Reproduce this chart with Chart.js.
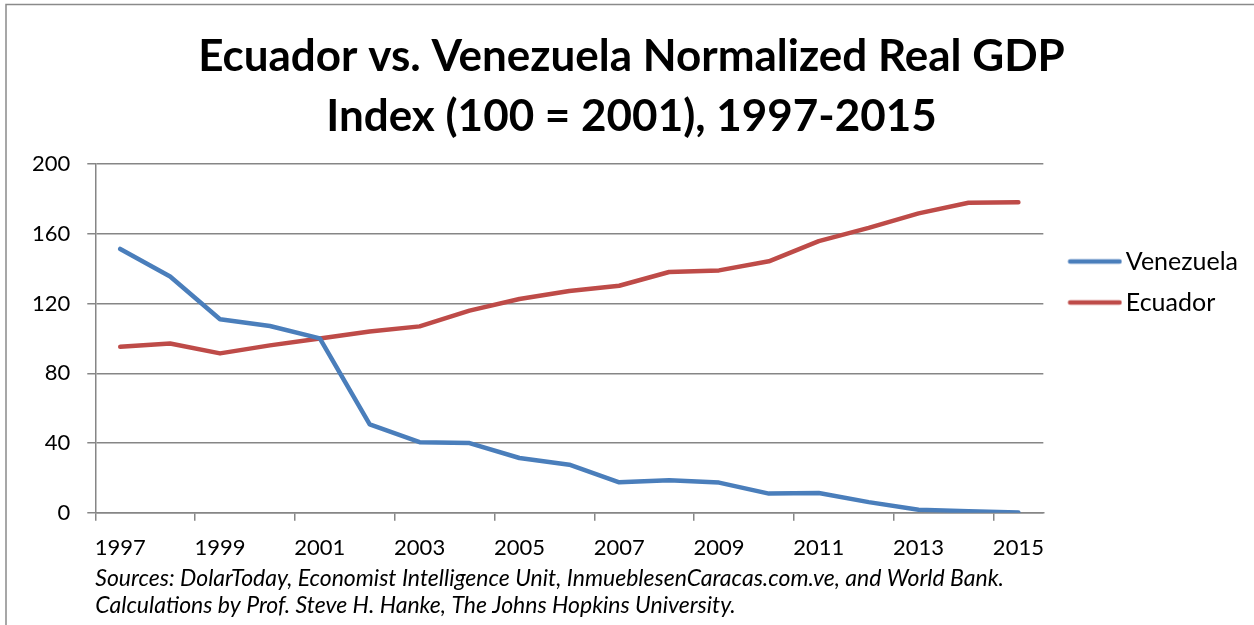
<!DOCTYPE html>
<html>
<head>
<meta charset="utf-8">
<script src="https://cdn.jsdelivr.net/npm/chart.js@4"></script>
<style>
  body { margin: 0; background: #fff; }
  #wrap { width: 1254px; height: 625px; position: relative; }
</style>
</head>
<body>
<div id="wrap"><canvas id="line-chart"></canvas></div>
<script>
var years = ["1997","1998","1999","2000","2001","2002","2003","2004","2005","2006",
             "2007","2008","2009","2010","2011","2012","2013","2014","2015"];
var venezuela = [151.3,135.5,111.0,107.1,100.0,50.7,40.5,40.0,31.4,27.6,17.5,18.6,17.3,11.0,11.3,6.1,1.7,0.9,0.2];
var ecuador = [95.2,97.1,91.4,96.0,100.0,104.0,106.9,115.9,122.6,127.2,130.2,138.1,139.0,144.2,155.8,163.4,171.7,177.8,178.1];
var yTicks = [0,40,80,120,160,200];
var titleLines = ["Ecuador vs. Venezuela Normalized Real GDP", "Index (100 = 2001), 1997-2015"];
var sourceLines = ["Sources: DolarToday, Economist Intelligence Unit, InmueblesenCaracas.com.ve, and World Bank.",
                   "Calculations by Prof. Steve H. Hanke, The Johns Hopkins University."];

var FONT = "Lato, 'Open Sans', sans-serif";
var axisGray = "#868686";
var blue = "#4A7EBB";
var red = "#BE4B48";

// legend swatch: a short thick line sitting close to the label text
function swatch(color) {
  var c = document.createElement('canvas');
  c.width = 72; c.height = 10;
  var g = c.getContext('2d');
  g.strokeStyle = color;
  g.lineWidth = 4.5;
  g.lineCap = 'round';
  g.beginPath();
  g.moveTo(19.75, 5);
  g.lineTo(69.25, 5);
  g.stroke();
  return c;
}

// frame lines on the left and top, like the original chart box
var framePlugin = {
  id: 'frame',
  afterDraw: function(chart) {
    var ctx = chart.ctx;
    ctx.save();
    ctx.strokeStyle = "#8a8a8a";
    ctx.lineWidth = 1.5;
    ctx.beginPath();
    ctx.moveTo(6, 625);
    ctx.lineTo(6, 4.5);
    ctx.lineTo(1254, 4.5);
    ctx.stroke();
    ctx.restore();
  }
};

new Chart(document.getElementById("line-chart"), {
  type: 'line',
  data: {
    labels: years,
    datasets: [
      {
        label: "Venezuela",
        data: venezuela,
        borderColor: blue,
        backgroundColor: blue,
        borderWidth: 4.5,
        borderCapStyle: 'round',
        borderJoinStyle: 'round',
        pointRadius: 0,
        pointStyle: swatch(blue),
        tension: 0
      },
      {
        label: "Ecuador",
        data: ecuador,
        borderColor: red,
        backgroundColor: red,
        borderWidth: 4.5,
        borderCapStyle: 'round',
        borderJoinStyle: 'round',
        pointRadius: 0,
        pointStyle: swatch(red),
        tension: 0
      }
    ]
  },
  plugins: [framePlugin],
  options: {
    responsive: true,
    maintainAspectRatio: false,
    animation: false,
    layout: { padding: { left: 15, right: 6, top: 22, bottom: 6 } },
    plugins: {
      title: {
        display: true,
        text: titleLines,
        color: "#000",
        font: { family: FONT, size: 44, weight: 'bold', lineHeight: 1.364 },
        padding: { top: 5, bottom: 17 }
      },
      legend: {
        position: 'right',
        align: 'start',
        title: {
          display: true,
          text: ' ',
          font: { size: 1, lineHeight: 1 },
          padding: { top: 210, bottom: 0 }
        },
        labels: {
          usePointStyle: true,
          pointStyleWidth: 54,
          boxHeight: 25,
          color: "#000",
          font: { family: FONT, size: 25 },
          padding: 16
        }
      },
      tooltip: { enabled: false }
    },
    scales: {
      x: {
        offset: true,
        border: { color: axisGray, width: 1.5 },
        grid: {
          offset: true,
          drawOnChartArea: false,
          drawTicks: true,
          tickLength: 8,
          lineWidth: 1.5,
          color: function(c) { return c.index % 2 === 0 ? axisGray : 'rgba(0,0,0,0)'; }
        },
        ticks: {
          autoSkip: false,
          maxRotation: 0,
          color: "#000",
          padding: 14,
          font: { family: FONT, size: 22 },
          callback: function(v, i) { return i % 2 === 0 ? years[i] : ''; }
        },
        title: {
          display: true,
          text: sourceLines,
          align: 'start',
          color: "#000",
          font: { family: FONT, size: 23, style: 'italic', lineHeight: 1.17 },
          padding: { top: -10, bottom: 0 }
        }
      },
      y: {
        min: 0,
        max: 200,
        border: { color: axisGray, width: 1.5 },
        grid: {
          color: axisGray,
          lineWidth: 1.5,
          tickLength: 8
        },
        afterBuildTicks: function(axis) {
          axis.ticks = yTicks.map(function(v) { return { value: v }; });
        },
        ticks: {
          color: "#000",
          padding: 17,
          font: { family: FONT, size: 22 }
        }
      }
    }
  }
});
</script>
</body>
</html>
